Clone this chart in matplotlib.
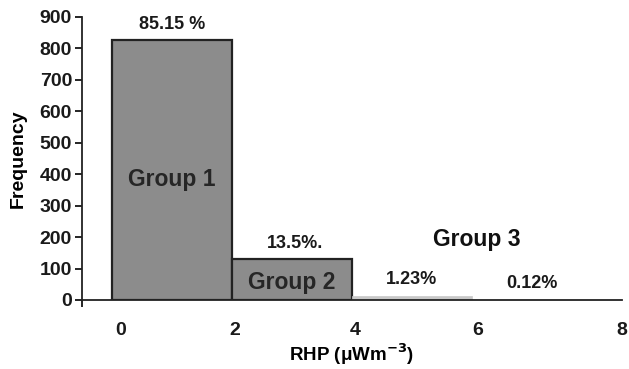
import matplotlib.pyplot as plt

plt.rcParams['font.family'] = ['Liberation Sans', 'DejaVu Sans']
plt.rcParams['font.weight'] = 'bold'
plt.rcParams['mathtext.default'] = 'bf'

# RHP bins (left edges) and frequencies
bin_left = [0, 2, 4, 6]
freq = [826, 131, 12, 1]
pct = ['85.15 %', '13.5%.', '1.23%', '0.12%']
bar_colors = ['#8c8c8c', '#8c8c8c', '#c8c8c8', '#c8c8c8']
edge_colors = ['#222222', '#222222', '#c8c8c8', '#c8c8c8']
xtick_pos = [0.15, 2.05, 4.05, 6.1, 8.5]
xtick_lab = ['0', '2', '4', '6', '8']

fig = plt.figure(figsize=(6.29, 3.69), dpi=100)
ax = fig.add_axes([0.130, 0.187, 0.859, 0.767])

for i in range(4):
    lw = 1.6 if i < 2 else 0.5
    ax.bar(bin_left[i], freq[i], width=2, align='edge', color=bar_colors[i],
           edgecolor=edge_colors[i], linewidth=lw, zorder=2)

# percentage labels
pct_x = [1.0, 3.05, 5.0, 7.0]
pct_y = [876, 181, 64, 54]
for px, py, t in zip(pct_x, pct_y, pct):
    ax.text(px, py, t, ha='center', va='center', fontsize=13,
            fontweight='bold', color='#1a1a1a')

# group labels
ax.text(1.0, 382, 'Group 1', ha='center', va='center', fontsize=16.5,
        fontweight='bold', color='#262626')
ax.text(3.0, 57, 'Group 2', ha='center', va='center', fontsize=16.5,
        fontweight='bold', color='#262626')
ax.text(6.08, 191, 'Group 3', ha='center', va='center', fontsize=16.5,
        fontweight='bold', color='#111111')

ax.set_xlim(-0.5, 8.5)
ax.set_ylim(0, 900)
ax.set_yticks(range(0, 901, 100))
ax.set_xticks(xtick_pos)
ax.set_xticklabels(xtick_lab)
ax.set_xticks([-0.5, 8.5], minor=True)
ax.tick_params(axis='x', which='major', length=0, pad=16, labelsize=14)
ax.tick_params(axis='x', which='minor', length=5, width=1.2, direction='out')
ax.tick_params(axis='y', length=5, width=1.2, labelsize=14, pad=2)
for lab in ax.get_xticklabels() + ax.get_yticklabels():
    lab.set_fontweight('bold')
    lab.set_color('#1a1a1a')

for s in ['top', 'right']:
    ax.spines[s].set_visible(False)
for s in ['left', 'bottom']:
    ax.spines[s].set_linewidth(1.3)
    ax.spines[s].set_color('#222222')

ax.set_ylabel('Frequency', fontsize=14, fontweight='bold', labelpad=9)
ax.set_xlabel('RHP (\u03bcWm$^{-3}$)', fontsize=13.5, fontweight='bold', labelpad=2)

fig.savefig('out.png', dpi=100)
